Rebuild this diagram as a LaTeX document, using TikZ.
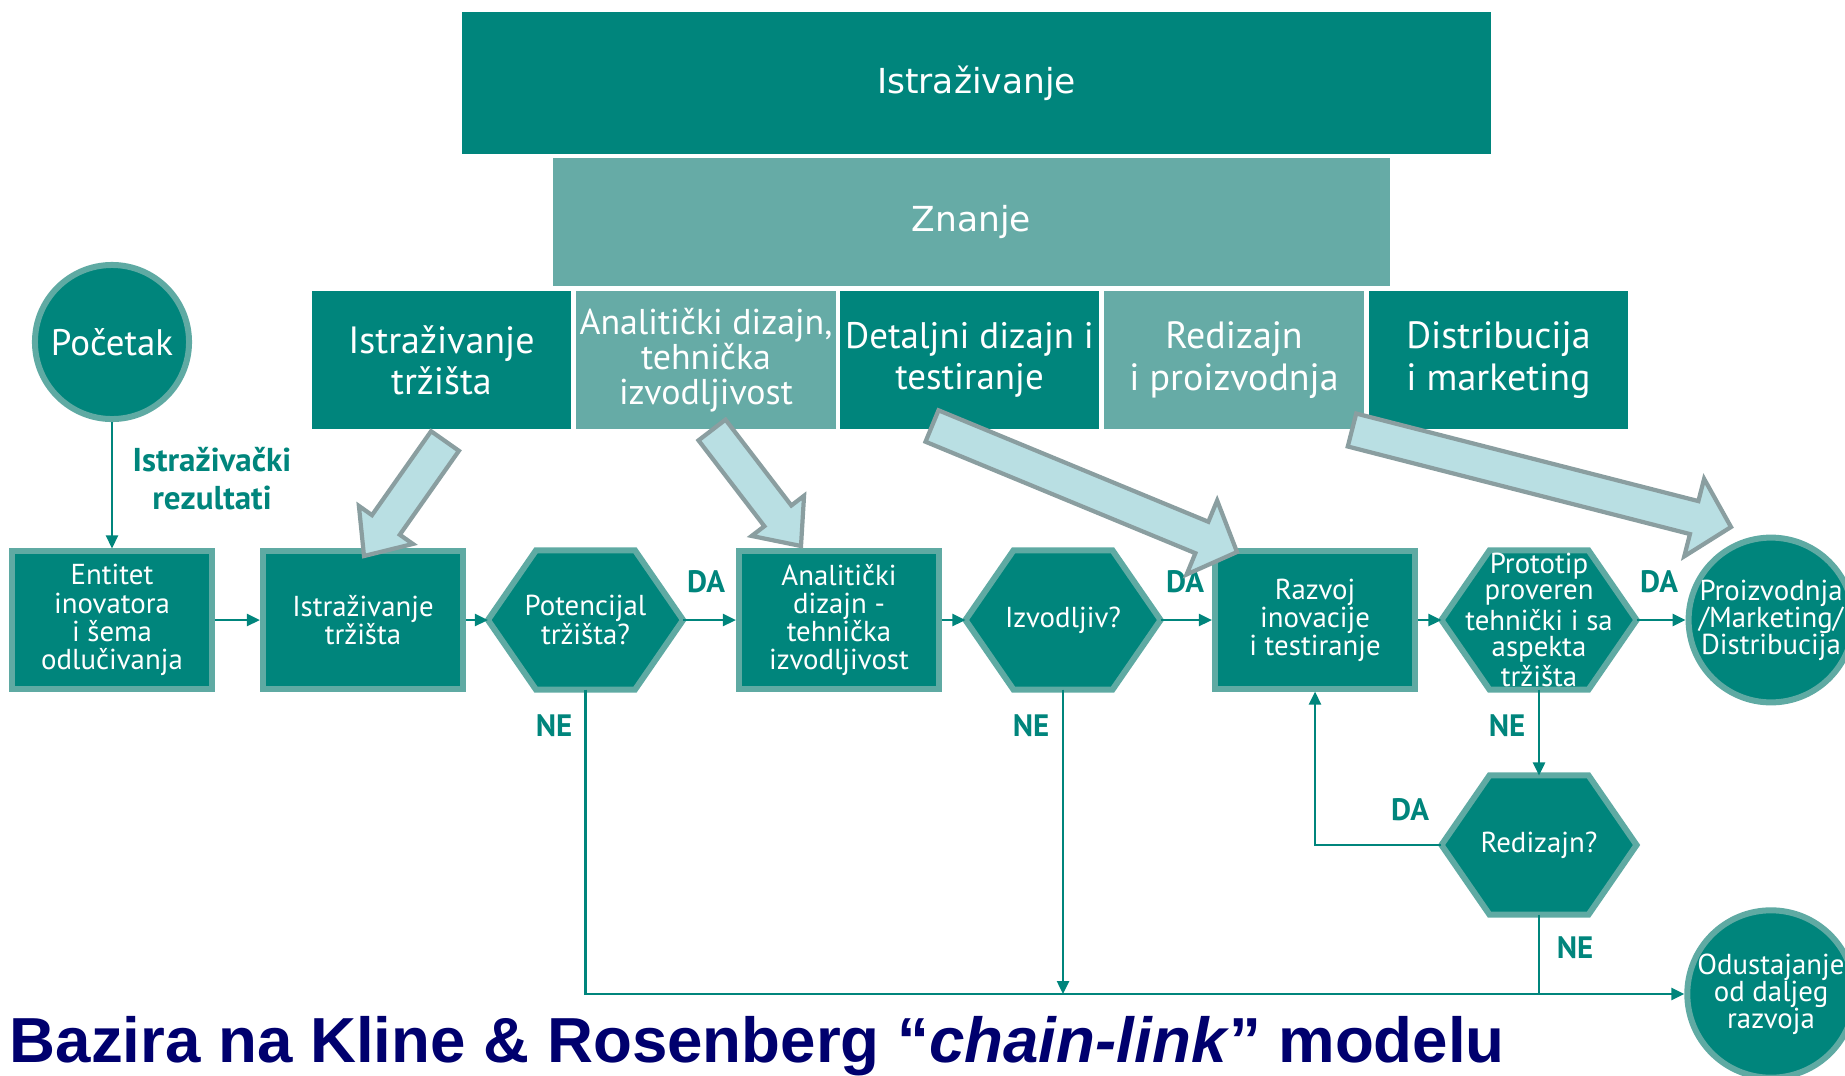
\documentclass[tikz,border=0pt]{standalone}
\usepackage{fontspec}
\setmainfont{PT Sans}
\newfontfamily\topfont{DejaVu Sans}
\newfontfamily\capfont{Liberation Sans}
\usepackage{xcolor}
\usetikzlibrary{arrows.meta, positioning, calc, backgrounds}
\definecolor{tealdark}{RGB}{0,133,124}
\definecolor{teallight}{RGB}{102,171,166}
\definecolor{tealedge}{RGB}{95,170,163}
\definecolor{arrowfill}{RGB}{185,223,227}
\definecolor{arrowedge}{RGB}{138,158,160}
\definecolor{captionnavy}{RGB}{0,0,110}

\begin{document}
\begin{tikzpicture}[x=0.01cm, y=-0.01cm,
  topbox/.style={fill=#1, text=white, inner sep=0, font=\topfont\fontsize{9.8}{11}\selectfont},
  phasebox/.style={fill=#1, text=white, inner sep=0, align=center, minimum width=2.59cm, minimum height=1.38cm, font=\fontsize{10.8}{11.7}\selectfont},
  procbox/.style={rectangle, fill=tealdark, draw=tealedge, line width=0.06cm, minimum width=2cm, minimum height=1.37cm, inner sep=0, text=white, align=center, font=\fontsize{8.2}{8}\selectfont},
  decbox/.style={rectangle, minimum width=1.95cm, minimum height=1.39cm, inner sep=0, outer sep=0, text=white, align=center, font=\fontsize{8.2}{8}\selectfont},
  endcircle/.style={circle, fill=tealdark, draw=tealedge, line width=0.06cm, minimum size=1.54cm, inner sep=0, text=white, align=center, font=\fontsize{8.2}{7.7}\selectfont},
  flow/.style={draw=tealdark, line width=0.7pt, -{Triangle[length=0.13cm, width=0.12cm]}},
  yesno/.style={text=tealdark, font=\bfseries\fontsize{8.8}{10}\selectfont, inner sep=0},
  fatarrow/.style={fill=arrowfill, draw=arrowedge, line width=1.2pt, line join=miter}
]
  \useasboundingbox (0,0) rectangle (1845,1075);

  % Top levels
  \node[topbox=tealdark, minimum width=10.29cm, minimum height=1.42cm] (res) at (976.5,83) {Istraživanje};
  \node[topbox=teallight, minimum width=8.37cm, minimum height=1.27cm] (know) at (971.5,222) {Znanje};

  % Phases
  \node[phasebox=tealdark] (r1) at (441.5,360) {Istraživanje\\tržišta};
  \node[phasebox=teallight, font=\fontsize{10.2}{10}\selectfont] (r2) at (706,360) {Analitički dizajn,\\tehnička\\izvodljivost};
  \node[phasebox=tealdark, font=\fontsize{10.5}{11.7}\selectfont] (r3) at (969.5,360) {Detaljni dizajn i\\testiranje};
  \node[phasebox=teallight] (r4) at (1234,360) {Redizajn\\i proizvodnja};
  \node[phasebox=tealdark] (r5) at (1498.5,360) {Distribucija\\i marketing};

  % Start
  \node[endcircle, font=\fontsize{10.5}{11}\selectfont] (poc) at (112,342) {Početak};
  \node[yesno, align=center, font=\bfseries\fontsize{9.4}{10.8}\selectfont] (resl) at (212,479) {Istraživački\\rezultati};

  % Chain
  \node[procbox] (ent) at (112,620) {Entitet\\inovatora\\i šema\\odlučivanja};
  \node[procbox] (its) at (363,620) {Istraživanje\\tržišta};
  \node[decbox] (pot) at (585.5,620) {Potencijal\\tržišta?};
  \node[procbox] (ana) at (839,620) {Analitički\\dizajn -\\tehnička\\izvodljivost};
  \node[decbox] (izv) at (1063,620) {Izvodljiv?};
  \node[procbox] (raz) at (1315,620) {Razvoj\\inovacije\\i testiranje};
  \node[decbox, font=\fontsize{8.2}{7.4}\selectfont] (pro) at (1539,620) {Prototip\\proveren\\tehnički i sa\\aspekta\\tržišta};
  \node[endcircle] (proiz) at (1771,620) {Proizvodnja\\/Marketing/\\Distribucija};
  \node[decbox] (red) at (1539,845) {Redizajn?};
  \node[endcircle] (odu) at (1771,994) {Odustajanje\\od daljeg\\razvoja};

  % Hexagons
  \begin{scope}[on background layer]
    \foreach \h in {pot, izv, pro, red} {
      \draw[fill=tealdark, draw=tealedge, line width=0.06cm, line join=miter]
        (\h.west) -- ($(\h.north west)+(48,0)$) -- ($(\h.north east)+(-48,0)$) -- (\h.east)
        -- ($(\h.south east)+(-48,0)$) -- ($(\h.south west)+(48,0)$) -- cycle;
    }
  \end{scope}

  % Flow
  \draw[flow] (poc) -- (ent);
  \draw[flow] (ent) -- (its);
  \draw[flow] (its) -- (pot);
  \draw[flow] (pot) -- (ana);
  \draw[flow] (ana) -- (izv);
  \draw[flow] (izv) -- (raz);
  \draw[flow] (raz) -- (pro);
  \draw[flow] (pro) -- (proiz);
  \draw[flow] (pro) -- (red);
  \draw[flow] (red.west) -| (raz.south);
  \draw[flow] (pot.south) |- (odu.west);
  \draw[flow] (izv.south) -- (izv.south |- odu.west);
  \draw[draw=tealdark, line width=0.7pt] (red.south) -- (red.south |- odu.west);

  % Labels
  \node[yesno] (da1) at (706,582) {DA};
  \node[yesno] (da2) at (1185,582) {DA};
  \node[yesno] (da3) at (1659,582) {DA};
  \node[yesno] (da4) at (1410,810) {DA};
  \node[yesno] (ne1) at (554,726) {NE};
  \node[yesno] (ne2) at (1031,726) {NE};
  \node[yesno] (ne3) at (1507,726) {NE};
  \node[yesno] (ne4) at (1575,948) {NE};

  % Knowledge arrows
  \coordinate (t1) at (445,441); \coordinate (h1) at (364,556);
  \coordinate (t2) at (712,430); \coordinate (h2) at (801,546);
  \coordinate (t3) at (932,426); \coordinate (h3) at (1237,552);
  \coordinate (t4) at (1352,430); \coordinate (h4) at (1731,527);
  \foreach \s/\e/\w in {t1/h1/0.33cm, t2/h2/0.33cm, t3/h3/0.4cm, t4/h4/0.4cm} {
    \coordinate (hb) at ($(\e)!0.38cm!(\s)$);
    \draw[fatarrow] ($(\s)!0.17cm!90:(\e)$) -- ($(hb)!0.17cm!90:(\e)$) -- ($(hb)!\w!90:(\e)$) -- (\e)
      -- ($(hb)!\w!-90:(\e)$) -- ($(hb)!0.17cm!-90:(\e)$) -- ($(\s)!0.17cm!-90:(\e)$) -- cycle;
  }

  % Caption
  \node[anchor=base west, inner sep=0, text=captionnavy, font=\capfont\bfseries\fontsize{18.1}{20}\selectfont] (caption) at (9,1062) {Bazira na Kline \& Rosenberg “\textit{chain-link}” modelu};
\end{tikzpicture}
\end{document}
